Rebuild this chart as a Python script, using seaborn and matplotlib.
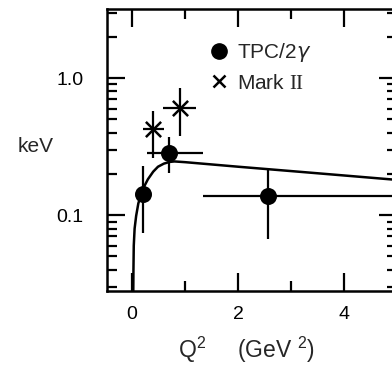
import matplotlib
matplotlib.use("Agg")
import matplotlib.pyplot as plt
import seaborn as sns
import pandas as pd
from matplotlib.lines import Line2D
from matplotlib.ticker import FixedLocator, FixedFormatter, LogLocator, NullFormatter

# TPC/2gamma points (Q^2 in GeV^2, width in keV) with asymmetric errors
tpc_x   = [0.20, 0.70, 2.56]
tpc_y   = [0.142, 0.285, 0.138]
tpc_xlo = [0.20, 0.29, 1.33]
tpc_xhi = [0.20, 1.33, 5.60]
tpc_ylo = [0.074, 0.204, 0.067]
tpc_yhi = [0.228, 0.373, 0.223]

# Mark II points
mark_x   = [0.40, 0.90]
mark_y   = [0.426, 0.605]
mark_xlo = [0.20, 0.59]
mark_xhi = [0.61, 1.20]
mark_ylo = [0.262, 0.381]
mark_yhi = [0.572, 0.846]

# model curve
curve_x = [0.025, 0.028, 0.034, 0.05, 0.079, 0.12, 0.174, 0.24, 0.30, 0.40,
           0.49, 0.60, 0.71, 0.80, 1.0, 2.0, 3.0, 4.0, 5.0, 5.6]
curve_y = [0.028, 0.040, 0.060, 0.080, 0.099, 0.122, 0.143, 0.165, 0.183, 0.208,
           0.226, 0.238, 0.245, 0.247, 0.244, 0.226, 0.210, 0.195, 0.181, 0.173]

x_major = [0, 2, 4]
x_minor = [1, 3]
x_labels = ["0", "2", "4"]
y_major = [0.1, 1.0]
y_labels = ["0.1", "1.0"]

sns.set_style("ticks")
plt.rcParams["font.family"] = ["Liberation Sans", "DejaVu Sans"]
plt.rcParams["mathtext.fontset"] = "custom"
plt.rcParams["mathtext.rm"] = "Liberation Serif"
plt.rcParams["mathtext.sf"] = "Liberation Sans"

fig = plt.figure(figsize=(3.92, 3.65), dpi=100)
ax = fig.add_axes([107 / 392, 74 / 365, 290.5 / 392, 282 / 365])

curve = pd.DataFrame({"q2": curve_x, "width": curve_y})
sns.lineplot(data=curve, x="q2", y="width", color="black", lw=1.8, ax=ax,
             sort=False, estimator=None)

tpc = pd.DataFrame({"q2": tpc_x, "width": tpc_y})
mark = pd.DataFrame({"q2": mark_x, "width": mark_y})

def err(vals, lo, hi):
    return [[v - l for v, l in zip(vals, lo)], [h - v for v, h in zip(vals, hi)]]

ax.errorbar(tpc_x, tpc_y, xerr=err(tpc_x, tpc_xlo, tpc_xhi),
            yerr=err(tpc_y, tpc_ylo, tpc_yhi), fmt="none", ecolor="black",
            elinewidth=1.6, capsize=0)
ax.errorbar(mark_x, mark_y, xerr=err(mark_x, mark_xlo, mark_xhi),
            yerr=err(mark_y, mark_ylo, mark_yhi), fmt="none", ecolor="black",
            elinewidth=1.6, capsize=0)
sns.scatterplot(data=tpc, x="q2", y="width", marker="o", s=150, color="black",
                edgecolor="black", linewidth=0, ax=ax, zorder=5)
sns.scatterplot(data=mark, x="q2", y="width", marker="x", s=120, color="black",
                linewidth=1.8, ax=ax, zorder=5)

ax.set_yscale("log")
ax.set_xlim(-0.47, 5.0)
ax.set_ylim(0.028, 3.2)

ax.xaxis.set_major_locator(FixedLocator(x_major))
ax.xaxis.set_major_formatter(FixedFormatter(x_labels))
ax.xaxis.set_minor_locator(FixedLocator(x_minor))
ax.yaxis.set_major_locator(FixedLocator(y_major))
ax.yaxis.set_major_formatter(FixedFormatter(y_labels))
ax.yaxis.set_minor_locator(LogLocator(base=10, subs=[2, 3, 4, 5, 6, 7, 8, 9]))
ax.yaxis.set_minor_formatter(NullFormatter())

ax.tick_params(which="both", direction="in", top=True, right=True,
               colors="black", labelsize=14)
ax.tick_params(which="major", length=13, width=1.6)
ax.tick_params(which="minor", length=7, width=1.6)
ax.tick_params(axis="y", which="major", pad=17)
ax.tick_params(axis="x", which="major", pad=11)
for s in ax.spines.values():
    s.set_linewidth(1.8)
    s.set_color("black")

ax.set_xlabel("")
ax.set_ylabel("")
fig.text(36 / 392, 1 - 146 / 365, "keV", ha="center", va="center", fontsize=15)
fig.text(247 / 392, 1 - 350 / 365, r"Q$^{\mathsf{2}}$     (GeV $^{\mathsf{2}}$)",
         ha="center", va="center", fontsize=16.5)

handles = [
    Line2D([], [], marker="o", ls="none", color="black", markersize=11),
    Line2D([], [], marker="x", ls="none", color="black", markersize=9, mew=1.8),
]
ax.legend(handles, [r"TPC/2$\gamma$", r"Mark $\mathrm{II}$"], loc="upper left",
          bbox_to_anchor=(0.285, 0.952), frameon=False, fontsize=15,
          handlelength=1.0, handletextpad=0.35, labelspacing=0.45)

fig.savefig("out.png", dpi=100)
